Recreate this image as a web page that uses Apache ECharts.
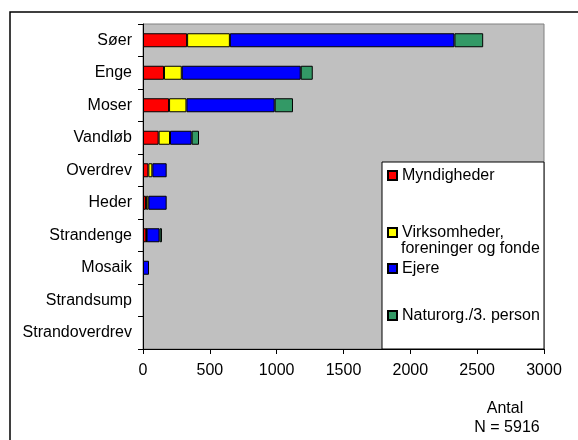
<!DOCTYPE html>
<html>
<head>
<meta charset="utf-8">
<script src="https://cdn.jsdelivr.net/npm/echarts@6/dist/echarts.min.js"></script>
<style>
  html, body { margin: 0; padding: 0; background: #fff; }
  #chart { width: 578px; height: 440px; }
</style>
</head>
<body>
<div id="chart"></div>
<script>
// naturtyper, øverst først
const categories = ['Søer', 'Enge', 'Moser', 'Vandløb', 'Overdrev', 'Heder', 'Strandenge', 'Mosaik', 'Strandsump', 'Strandoverdrev']

const myndigheder = [330, 157, 195, 117, 40, 22, 25, 0, 0, 0]
const virksomheder = [320, 133, 130, 85, 30, 18, 2, 0, 0, 0]
const ejere = [1680, 890, 660, 162, 107, 137, 97, 45, 0, 0]
const naturorg = [215, 90, 137, 55, 0, 0, 18, 0, 0, 0]

const xTicks = [0, 500, 1000, 1500, 2000, 2500, 3000]

const font = 'Liberation Sans, Arial, sans-serif'
const fs = 16

const chart = echarts.init(document.getElementById('chart'))

function bar(name, data, color) {
  return {
    name: name,
    type: 'bar',
    stack: 'total',
    // tomme felter tegnes ikke (ellers kommer der en sort streg)
    data: data.map(v => (v === 0 ? '-' : v)),
    barWidth: 14,
    itemStyle: { color: color, borderColor: '#000', borderWidth: 1 },
    emphasis: { disabled: true }
  }
}

function legendAt(name, top, extra) {
  return Object.assign({
    data: [name],
    orient: 'vertical',
    left: 387,
    top: top,
    padding: 0,
    itemWidth: 9,
    itemHeight: 9,
    icon: 'rect',
    selectedMode: false,
    z: 20,
    textStyle: { fontFamily: font, fontSize: fs, color: '#000', lineHeight: 17 }
  }, extra || {})
}

const option = {
  animation: false,
  backgroundColor: '#fff',
  grid: {
    left: 143,
    top: 24,
    right: 34,
    bottom: 91,
    show: true,
    backgroundColor: '#c0c0c0',
    borderColor: '#808080',
    borderWidth: 1
  },
  xAxis: {
    type: 'value',
    min: xTicks[0],
    max: xTicks[xTicks.length - 1],
    interval: 500,
    splitLine: { show: false },
    axisLine: { show: true, lineStyle: { color: '#000', width: 1 } },
    axisTick: { show: true, length: 5, lineStyle: { color: '#000' } },
    axisLabel: { fontFamily: font, fontSize: fs, color: '#000', margin: 14, formatter: v => String(v) }
  },
  yAxis: {
    type: 'category',
    inverse: true,
    data: categories,
    axisLine: { show: true, lineStyle: { color: '#000', width: 1 } },
    axisTick: { show: true, length: 5, lineStyle: { color: '#000' } },
    axisLabel: { fontFamily: font, fontSize: fs, color: '#000', margin: 11 }
  },
  legend: [
    legendAt('Myndigheder', 167),
    legendAt('Virksomheder', 224, { formatter: () => 'Virksomheder,' }),
    legendAt('Ejere', 260),
    legendAt('Naturorg./3. person', 307)
  ],
  graphic: [
    {
      type: 'rect',
      z: 10,
      shape: { x: 382, y: 162, width: 162, height: 187 },
      style: { fill: '#fff', stroke: '#000', lineWidth: 1 }
    },
    {
      type: 'text',
      z: 30,
      x: 401,
      y: 249,
      style: { text: 'foreninger og fonde', fontFamily: font, fontSize: fs, fill: '#000', verticalAlign: 'middle' }
    },
    {
      type: 'rect',
      z: 10,
      shape: { x: 10, y: 12, width: 620, height: 500 },
      style: { fill: 'none', stroke: '#000', lineWidth: 1.5 }
    },
    {
      type: 'text',
      z: 10,
      x: 505,
      y: 409,
      style: { text: 'Antal', fontFamily: font, fontSize: fs, fill: '#000', align: 'center', verticalAlign: 'middle' }
    },
    {
      type: 'text',
      z: 10,
      x: 507,
      y: 428,
      style: { text: 'N = 5916', fontFamily: font, fontSize: fs, fill: '#000', align: 'center', verticalAlign: 'middle' }
    }
  ],
  series: [
    bar('Myndigheder', myndigheder, '#ff0000'),
    bar('Virksomheder', virksomheder, '#ffff00'),
    bar('Ejere', ejere, '#0000ff'),
    bar('Naturorg./3. person', naturorg, '#339966')
  ]
}

chart.setOption(option)
</script>
</body>
</html>
